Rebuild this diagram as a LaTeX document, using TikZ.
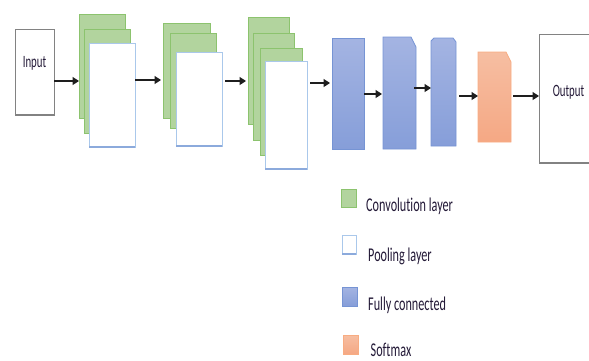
\documentclass[tikz,border=0pt]{standalone}
\usepackage{fontspec}
\setmainfont{Carlito}[Ligatures=CommonOff]
\usetikzlibrary{arrows.meta,calc}
\definecolor{convfill}{RGB}{178,212,158}
\definecolor{convline}{RGB}{140,195,110}
\definecolor{poolline}{RGB}{170,200,235}
\definecolor{poolbot}{RGB}{140,170,220}
\definecolor{fctop}{RGB}{164,180,226}
\definecolor{fcbot}{RGB}{134,158,217}
\definecolor{fcline}{RGB}{118,148,212}
\definecolor{smtop}{RGB}{246,190,162}
\definecolor{smbot}{RGB}{245,168,132}
\definecolor{smline}{RGB}{248,172,130}
\definecolor{boxline}{RGB}{130,130,130}
\definecolor{txt}{RGB}{35,25,55}
\definecolor{arrcol}{RGB}{30,30,30}
\begin{document}
\begin{tikzpicture}[x=1pt,y=-1pt,
  sz/.style 2 args={minimum width=#1pt, minimum height=#2pt},
  base/.style={anchor=north west, inner sep=0pt, outer sep=0pt},
  conv/.style={base, draw=convline, fill=convfill, line width=0.8pt},
  pool/.style={base, draw=poolline, fill=white, line width=0.8pt},
  fcbox/.style={base, draw=fcline, top color=fctop, bottom color=fcbot, line width=0.8pt},
  hid/.style={base, draw=none},
  fcpath/.style={draw=fcline, top color=fctop, bottom color=fcbot, line width=0.8pt},
  smpath/.style={draw=smline, top color=smtop, bottom color=smbot, line width=0.8pt},
  iobox/.style={base, draw=boxline, fill=white, line width=0.8pt},
  thickbot/.style={line width=1.8pt},
  arr/.style={draw=arrcol, line width=1.5pt, -{Triangle[length=6.5pt,width=8pt]}},
  lbl/.style={anchor=base, text=txt, inner sep=0pt, font=\fontsize{10.8}{12}\selectfont},
  leg/.style={anchor=base west, text=txt, inner sep=0pt, font=\fontsize{12.2}{14}\selectfont}
]
\useasboundingbox (0,0) rectangle (589,360);
\clip (0,0) rectangle (589,360);

% input
\node[iobox, sz={39}{86}] (input) at (15,29) {};
\draw[boxline, thickbot] (input.south west) -- (input.south east);
\node[lbl] (intext) at (34.5,67) {\scalebox{1}[1.6]{Input}};

% conv group 1
\node[conv, sz={46}{104}] (c1a) at (79,14) {};
\node[conv, sz={46}{104}] (c1b) at (84,29) {};
\node[pool, sz={46}{104}] (p1) at (89,43) {};
\draw[poolbot, line width=1.4pt] (p1.south west) -- (p1.south east);

% conv group 2
\node[conv, sz={47}{95}] (c2a) at (163,23) {};
\node[conv, sz={46}{95}] (c2b) at (170,33) {};
\node[pool, sz={46}{94}] (p2) at (176,52) {};
\draw[poolbot, line width=1.4pt] (p2.south west) -- (p2.south east);

% conv group 3
\node[conv, sz={41}{107}] (c3a) at (248,17) {};
\node[conv, sz={41}{107}] (c3b) at (253,33) {};
\node[conv, sz={42}{107}] (c3c) at (260,48) {};
\node[pool, sz={42}{108}] (p3) at (265,61) {};
\draw[poolbot, line width=1.4pt] (p3.south west) -- (p3.south east);

% fully connected
\node[fcbox, sz={32}{111}] (fc1) at (332,38) {};
\node[hid, sz={33}{112}] (fc2) at (383,37) {};
\path[fcpath] (fc2.north west) -- ([xshift=-5pt]fc2.north east) -- ([yshift=-10pt]fc2.north east)
  -- (fc2.south east) -- (fc2.south west) -- cycle;
\node[hid, sz={25}{108}] (fc3) at (431,38) {};
\path[fcpath] ([yshift=-3pt]fc3.north west) -- ([xshift=3pt]fc3.north west) -- ([xshift=-3pt]fc3.north east) -- ([yshift=-4pt]fc3.north east)
  -- (fc3.south east) -- (fc3.south west) -- cycle;

% softmax
\node[hid, sz={33}{90}] (sm) at (478,52) {};
\path[smpath] (sm.north west) -- ([xshift=-5pt]sm.north east) -- ([yshift=-10pt]sm.north east)
  -- (sm.south east) -- (sm.south west) -- cycle;

% output
\node[iobox, sz={70}{129}] (output) at (539,34) {};
\draw[boxline, thickbot] (output.south west) -- (output.south east);
\node[lbl] (outtext) at (568.5,96) {\scalebox{1}[1.6]{Output}};

% arrow levels
\coordinate (y1) at (0,81);
\coordinate (y2) at (0,80);
\coordinate (y3) at (0,81);
\coordinate (y4) at (0,83);
\coordinate (y5) at (0,94);
\coordinate (y6) at (0,88);
\coordinate (y7) at (0,96);

\draw[arr] (input.east |- y1) -- (c1a.west |- y1);
\draw[arr] (p1.east |- y2) -- ([xshift=-2pt]c2a.west |- y2);
\draw[arr] ([xshift=3pt]p2.east |- y3) -- ([xshift=-2pt]c3a.west |- y3);
\draw[arr] ([xshift=3pt]p3.east |- y4) -- ([xshift=-2pt]fc1.west |- y4);
\draw[arr] (fc1.east |- y5) -- ([xshift=-1pt]fc2.west |- y5);
\draw[arr] ([xshift=-2pt]fc2.east |- y6) -- (fc3.west |- y6);
\draw[arr] ([xshift=3pt]fc3.east |- y7) -- (sm.west |- y7);
\draw[arr] ([xshift=2pt]sm.east |- y7) -- (output.west |- y7);

% legend
\node[conv, sz={15}{18}] (lg1) at (341,189) {};
\node[leg] (lt1) at (366,211.5) {\scalebox{1}[1.6]{Convolution layer}};
\node[pool, sz={14}{19}] (lg2) at (342,235) {};
\draw[poolbot, line width=1.2pt] (lg2.south west) -- (lg2.south east);
\node[leg] (lt2) at (368,261.5) {\scalebox{1}[1.6]{Pooling layer}};
\node[fcbox, sz={15}{19}] (lg3) at (342,287) {};
\node[leg] (lt3) at (368,310) {\scalebox{1}[1.6]{Fully connected}};
\node[base, draw=smline, top color=smtop, bottom color=smbot, line width=0.8pt, sz={15}{19}] (lg4) at (343,335) {};
\node[leg] (lt4) at (370.5,356.5) {\scalebox{1}[1.6]{Softmax}};
\end{tikzpicture}
\end{document}
